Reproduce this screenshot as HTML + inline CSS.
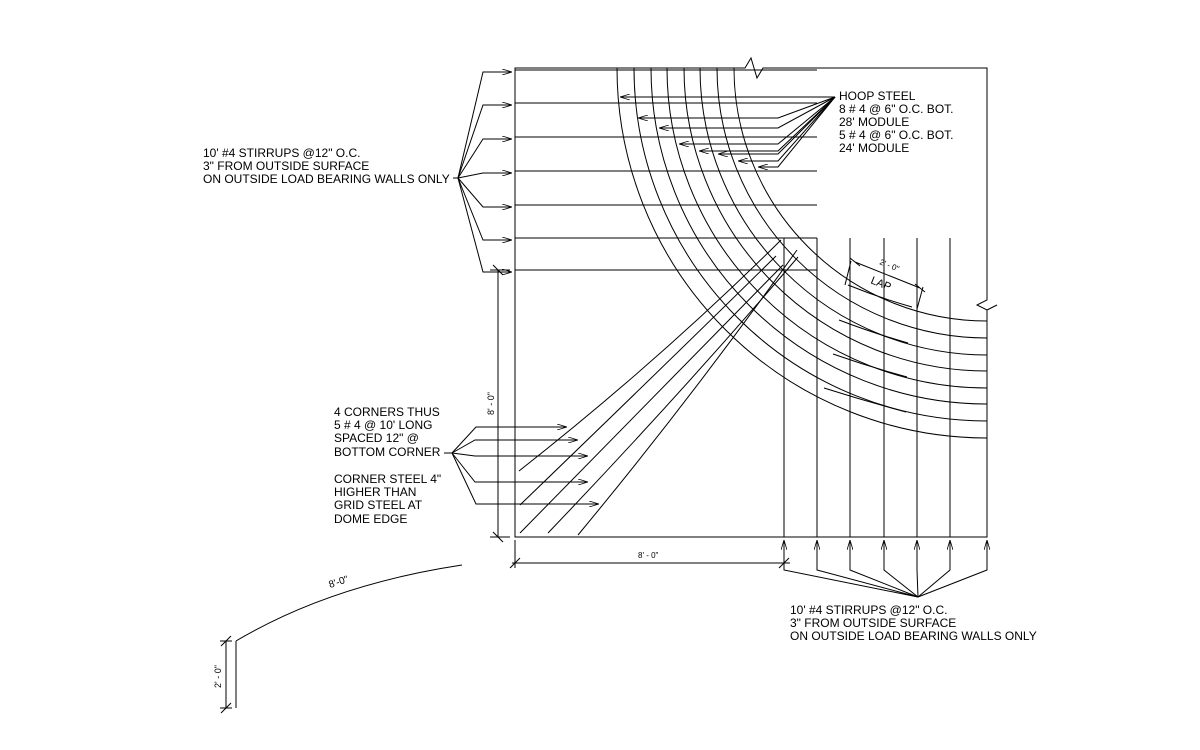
<!DOCTYPE html>
<html><head><meta charset="utf-8"><style>
html,body{margin:0;padding:0;background:#fff;}
svg{display:block;}
text{font-family:"Liberation Sans",Arial,sans-serif;font-size:12px;fill:#000;}
</style></head><body>
<svg width="1200" height="750" viewBox="0 0 1200 750" xmlns="http://www.w3.org/2000/svg">
<defs>
<marker id="ar" viewBox="0 0 10 6" refX="10" refY="3" markerWidth="10" markerHeight="6" markerUnits="userSpaceOnUse" orient="auto">
<path d="M0,0 L10,3 L0,6" fill="none" stroke="#000" stroke-width="0.8"/>
</marker>
</defs>
<g fill="none" stroke="#000" stroke-width="1">
<path d="M515,68 L745,68 L751,58 L757,78 L763,68 L987,68 L987,300 L977,305 L987,310 L997,305 L987,310 L987,537 L515,537 Z"/>
<path d="M515,70H817 M515,103H817 M515,137H817 M515,171H817 M515,205H817 M515,238H817 M515,270H817"/>
<path d="M784,238V537 M817,238V537 M850,238V537 M884,238V537 M917,238V537 M950,238V537"/>
<path d="M617,68 A370,370 0 0 0 987,438"/>
<path d="M634,68 A353,353 0 0 0 987,421"/>
<path d="M651,68 A336,336 0 0 0 987,404"/>
<path d="M667,68 A320,320 0 0 0 987,388"/>
<path d="M684,68 A303,303 0 0 0 987,371"/>
<path d="M700,68 A287,287 0 0 0 987,355"/>
<path d="M717,68 A270,270 0 0 0 987,338"/>
<path d="M734,68 A253,253 0 0 0 987,321"/>
<path d="M848,285 Q880,298 912,307 M839,320 Q873,333 908,343 M833,354 Q870,367 907,377 M824,388 Q865,401 906,412"/>
<path d="M519,471 Q660,360 781,240"/>
<path d="M520,505 Q660,370 776,256"/>
<path d="M520,533 Q660,390 783,265"/>
<path d="M548,533 Q680,395 798,257"/>
<path d="M578,535 Q690,400 797,250"/>
<!-- left stirrup callout -->
<path d="M453,178H458"/>
<path d="M458,178L483,72H512" marker-end="url(#ar)"/>
<path d="M458,178L483,105H512" marker-end="url(#ar)"/>
<path d="M458,178L483,139H512" marker-end="url(#ar)"/>
<path d="M458,178L483,173H512" marker-end="url(#ar)"/>
<path d="M458,178L483,207H512" marker-end="url(#ar)"/>
<path d="M458,178L483,240H512" marker-end="url(#ar)"/>
<path d="M458,178L483,272H512" marker-end="url(#ar)"/>
<!-- left dimension -->
<path d="M498,270V537 M493,265L503,275 M493,532L503,542 M490,270H510 M490,537H510"/>
<!-- bottom dimension -->
<path d="M515,540V568 M784,540V568 M512,563H790 M510,568L520,558 M779,568L789,558"/>
<!-- bottom stirrup callout -->
<path d="M918,597L784,570V540" marker-end="url(#ar)"/>
<path d="M918,597L817,570V540" marker-end="url(#ar)"/>
<path d="M918,597L850,570V540" marker-end="url(#ar)"/>
<path d="M918,597L884,570V540" marker-end="url(#ar)"/>
<path d="M918,597L917,570V540" marker-end="url(#ar)"/>
<path d="M918,597L950,570V540" marker-end="url(#ar)"/>
<path d="M918,597L987,570V540" marker-end="url(#ar)"/>
<!-- hoop steel callout -->
<path d="M835,97H620" marker-end="url(#ar)"/>
<path d="M835,97L778,118H638" marker-end="url(#ar)"/>
<path d="M835,97L778,128H659" marker-end="url(#ar)"/>
<path d="M835,97L778,144H679" marker-end="url(#ar)"/>
<path d="M835,97L778,151H699" marker-end="url(#ar)"/>
<path d="M835,97L778,154H718" marker-end="url(#ar)"/>
<path d="M835,97L778,161H738" marker-end="url(#ar)"/>
<path d="M835,97L778,167H758" marker-end="url(#ar)"/>
<!-- corner callout -->
<path d="M444,453H452"/>
<path d="M452,453L476,427H567" marker-end="url(#ar)"/>
<path d="M452,453L475,440H578" marker-end="url(#ar)"/>
<path d="M452,453L475,456H588" marker-end="url(#ar)"/>
<path d="M452,453L475,482H588" marker-end="url(#ar)"/>
<path d="M452,453L476,504H599" marker-end="url(#ar)"/>
<!-- LAP dimension -->
<path d="M855,262L920,288 M850,258L860,266 M915,284L925,292 M851,261L845,285 M923,287L917,309"/>
<!-- bottom-left arc -->
<path d="M236,641 Q330,585 462,565"/>
<path d="M236,641V708 M226,641V708 M220,641H232 M220,708H232 M221,646L231,636 M221,713L231,703"/>
</g>
<text x="203" y="157">10' #4 STIRRUPS @12" O.C.</text>
<text x="203" y="170">3" FROM OUTSIDE SURFACE</text>
<text x="203" y="183">ON OUTSIDE LOAD BEARING WALLS ONLY</text>
<text x="839" y="100">HOOP STEEL</text>
<text x="839" y="113">8 # 4 @ 6" O.C. BOT.</text>
<text x="839" y="126">28' MODULE</text>
<text x="839" y="139">5 # 4 @ 6" O.C. BOT.</text>
<text x="839" y="152">24' MODULE</text>
<text x="334" y="416">4 CORNERS THUS</text>
<text x="334" y="429">5 # 4 @ 10' LONG</text>
<text x="334" y="442">SPACED 12" @</text>
<text x="334" y="456">BOTTOM CORNER</text>
<text x="334" y="483">CORNER STEEL 4"</text>
<text x="334" y="496">HIGHER THAN</text>
<text x="334" y="509">GRID STEEL AT</text>
<text x="334" y="523">DOME EDGE</text>
<text x="790" y="614">10' #4 STIRRUPS @12" O.C.</text>
<text x="790" y="627">3" FROM OUTSIDE SURFACE</text>
<text x="790" y="640">ON OUTSIDE LOAD BEARING WALLS ONLY</text>
<text x="638" y="558" style="font-size:8px">8' - 0"</text>
<text transform="translate(494,415) rotate(-90)" style="font-size:9px">8' - 0"</text>
<text transform="translate(221,688) rotate(-90)" style="font-size:9px">2' - 0"</text>
<text transform="translate(330,588) rotate(-18)" style="font-size:10px">8'-0"</text>
<text transform="translate(879,264) rotate(22)" style="font-size:8px">2' - 0"</text>
<text transform="translate(870,283) rotate(22)" style="font-size:11px">LAP</text>
</svg>
</body></html>
